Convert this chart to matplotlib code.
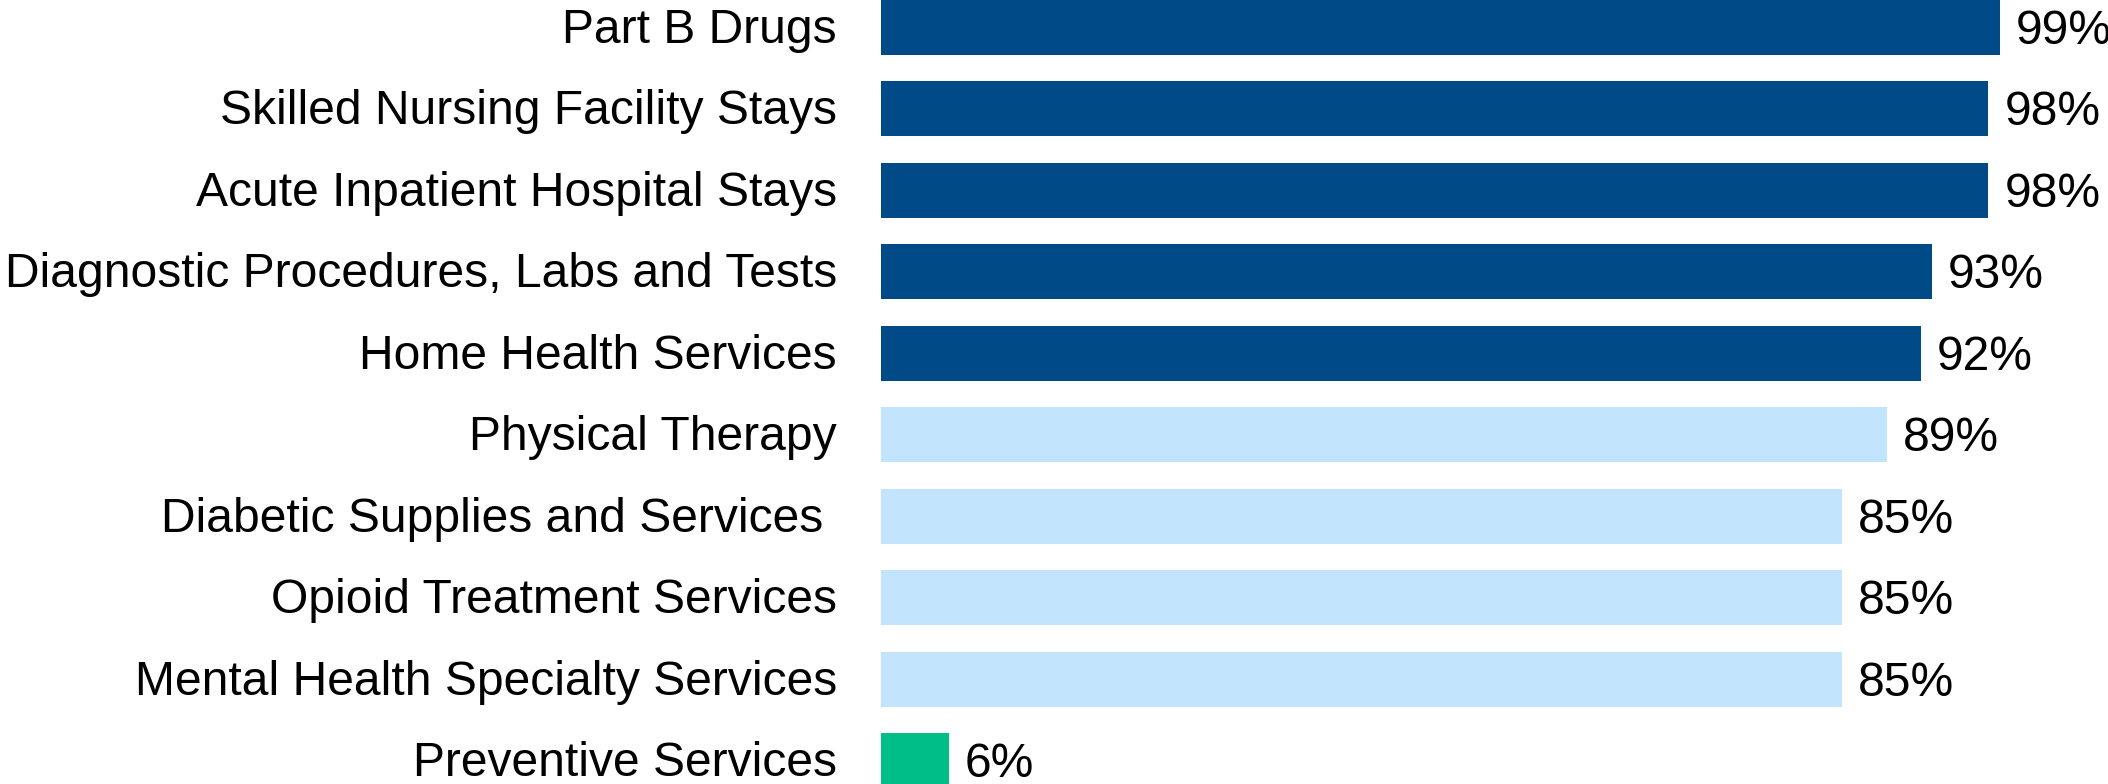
import matplotlib
matplotlib.use("Agg")
import matplotlib.pyplot as plt

categories = [
    "Part B Drugs",
    "Skilled Nursing Facility Stays",
    "Acute Inpatient Hospital Stays",
    "Diagnostic Procedures, Labs and Tests",
    "Home Health Services",
    "Physical Therapy",
    "Diabetic Supplies and Services ",
    "Opioid Treatment Services",
    "Mental Health Specialty Services",
    "Preventive Services",
]
values = [99, 98, 98, 93, 92, 89, 85, 85, 85, 6]
groups = ["dark"] * 5 + ["light"] * 4 + ["green"]
palette = {"dark": "#004B87", "light": "#C2E4FD", "green": "#00BF86"}

plt.rcParams['font.family'] = ['Liberation Sans', 'DejaVu Sans']

W, H, DPI = 2108, 784, 100
PT = 72 / DPI  # points per pixel
fig = plt.figure(figsize=(W / DPI, H / DPI), dpi=DPI)
left_px = 881
ax = fig.add_axes([left_px / W, 0, 1 - left_px / W, 1])

px_per_unit = 11.3
ax.set_xlim(0, (W - left_px) / px_per_unit)
pitch = 81.4
ax.set_ylim(len(categories) - 1 + (H - 760.5) / pitch, -27.5 / pitch)

ypos = list(range(len(categories)))
colors = [palette[g] for g in groups]
ax.barh(ypos, values, height=55 / pitch, color=colors, clip_on=False)

FS = 34.6
for y, v in zip(ypos, values):
    ax.annotate(f"{v}%", xy=(v, y), xytext=(16 * PT, -16.5 * PT), textcoords="offset points",
                ha="left", va="baseline", fontsize=FS, color="black",
                annotation_clip=False)

for y, lab in zip(ypos, categories):
    ax.annotate(lab, xy=(0, y), xytext=(-44 * PT, -15.5 * PT), textcoords="offset points",
                ha="right", va="baseline", fontsize=FS, color="black",
                annotation_clip=False)

ax.set_yticks([])
ax.set_xticks([])
for s in ax.spines.values():
    s.set_visible(False)

fig.savefig("out.png", dpi=DPI)
